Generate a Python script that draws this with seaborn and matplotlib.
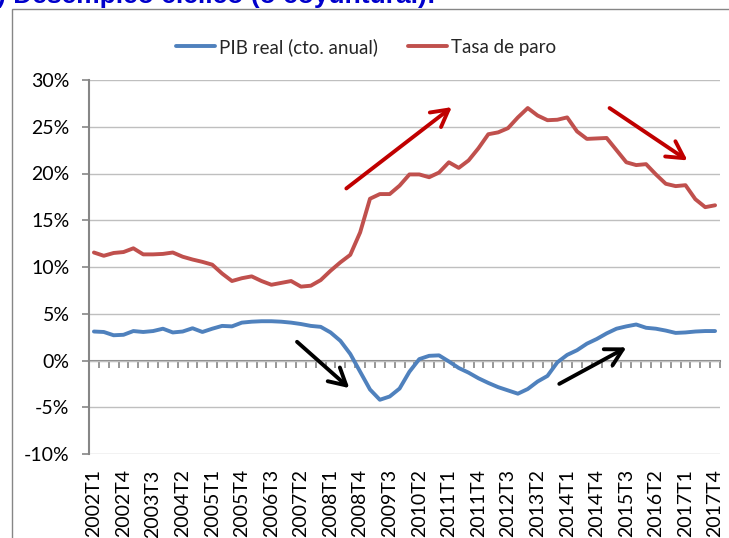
import seaborn as sns
import matplotlib.pyplot as plt
import numpy as np
import pandas as pd
from matplotlib.patches import Rectangle
from matplotlib.ticker import FuncFormatter

# Data (quarterly, % values)
years = list(range(2002, 2018))
quarters = [f'{y}T{q}' for y in years for q in range(1, 5)]

pib_real = [3.1, 3.05, 2.7, 2.75, 3.15, 3.05, 3.15, 3.4, 3.0, 3.1,
            3.45, 3.05, 3.4, 3.7, 3.65, 4.05, 4.15, 4.2, 4.2, 4.15,
            4.05, 3.9, 3.7, 3.6, 3.0, 2.1, 0.7, -1.2, -3.1, -4.2,
            -3.85, -3.0, -1.2, 0.15, 0.5, 0.55, -0.1, -0.8, -1.3, -1.9,
            -2.4, -2.85, -3.2, -3.55, -3.05, -2.25, -1.65, -0.2, 0.6, 1.1,
            1.8, 2.3, 2.9, 3.4, 3.65, 3.85, 3.5, 3.4, 3.2, 2.95,
            3.0, 3.1, 3.15, 3.15]

tasa_paro = [11.55, 11.2, 11.5, 11.6, 12.0, 11.35, 11.35, 11.4, 11.55, 11.1,
             10.8, 10.55, 10.25, 9.3, 8.5, 8.8, 9.0, 8.5, 8.1, 8.3,
             8.5, 7.9, 8.0, 8.6, 9.6, 10.5, 11.3, 13.7, 17.3, 17.8,
             17.8, 18.7, 19.9, 19.9, 19.6, 20.1, 21.2, 20.6, 21.4, 22.7,
             24.2, 24.4, 24.85, 26.0, 27.0, 26.2, 25.7, 25.75, 26.0, 24.5,
             23.7, 23.75, 23.8, 22.5, 21.2, 20.9, 21.0, 19.9, 18.9, 18.65,
             18.75, 17.25, 16.4, 16.6]

series_names = ['PIB real (cto. anual)', 'Tasa de paro']

# trend arrows: (tail, head, colour) in data coords
arrows = [((25.6, 18.4), (36.3, 27.1), '#C00000'),
          ((52.3, 27.0), (60.2, 21.4), '#C00000'),
          ((20.6, 2.0), (25.9, -2.95), 'black'),
          ((47.2, -2.5), (54.0, 1.4), 'black')]

n = len(quarters)
df = pd.DataFrame({
    't': list(range(n)) * 2,
    'valor': pib_real + tasa_paro,
    'serie': [series_names[0]] * n + [series_names[1]] * n,
})

# Settings
sns.set_style('white')
plt.rcParams['font.family'] = ['Lato', 'DejaVu Sans']
plt.rcParams['axes.unicode_minus'] = False
grey = '#868686'
colours = ['#4F81BD', '#C0504D']

fig = plt.figure(figsize=(7.29, 5.38), dpi=100)
ax = fig.add_axes([89 / 729, 1 - 454 / 538, (720 - 89) / 729, (454 - 80) / 538])

sns.lineplot(data=df, x='t', y='valor', hue='serie', palette=colours,
             linewidth=2.8, ax=ax)

ymin, ymax = -10, 30
ax.set_ylim(ymin, ymax)
ax.set_xlim(-0.5, n - 0.5)
ax.set_yticks(np.arange(ymin, ymax + 1, 5))
ax.yaxis.set_major_formatter(FuncFormatter(lambda v, p: f'{v:.0f}%'))
ax.grid(axis='y', color='#BFBFBF', linewidth=1)
ax.set_axisbelow(True)
ax.set_xlabel('')
ax.set_ylabel('')

ax.set_xticks(range(0, n, 3))
ax.set_xticklabels(quarters[::3], rotation=90)
ax.tick_params(axis='x', length=0, pad=11, labelsize=14, labelcolor='black')
ax.tick_params(axis='y', length=5, width=1.2, color=grey, pad=9,
               labelsize=14, labelcolor='black', left=True)

for s in ['top', 'right', 'bottom']:
    ax.spines[s].set_visible(False)
ax.spines['left'].set_color(grey)
ax.spines['left'].set_linewidth(1.5)

# category axis crossing at 0 with tick marks between quarters
sec = ax.secondary_xaxis((0 - ymin) / (ymax - ymin))
sec.set_xticks(np.arange(-0.5, n, 1))
sec.tick_params(axis='x', length=5, width=1.2, color=grey, labelbottom=False)
sec.spines['bottom'].set_color(grey)
sec.spines['bottom'].set_linewidth(1.5)

for tail, head, col in arrows:
    ax.annotate('', xy=head, xytext=tail,
                arrowprops=dict(arrowstyle='->,head_length=0.6,head_width=0.33',
                                color=col, lw=2.8, mutation_scale=20,
                                shrinkA=0, shrinkB=0))

# Legend on top
handles, labels = ax.get_legend_handles_labels()
ax.get_legend().remove()
fig.legend(handles, labels, loc='center', bbox_to_anchor=(366 / 729, 1 - 47 / 538),
           ncol=2, frameon=False, fontsize=13.5, handlelength=2.1,
           handletextpad=0.2, columnspacing=1.6)

# chart frame and (cut) heading
fig.patches.append(Rectangle((11.7 / 729, -0.2), 1.2, 1.2 - 9 / 538,
                             transform=fig.transFigure, fill=False,
                             edgecolor=grey, linewidth=1, zorder=0))
fig.text(-3 / 729, 1 - 3 / 538, ') Desempleo cíclico (o coyuntural):',
         fontsize=19, fontweight='bold', color='#0000CC',
         family='Liberation Sans', va='baseline', ha='left')

plt.savefig('out.png', dpi=100)
print('Successfully completed')
